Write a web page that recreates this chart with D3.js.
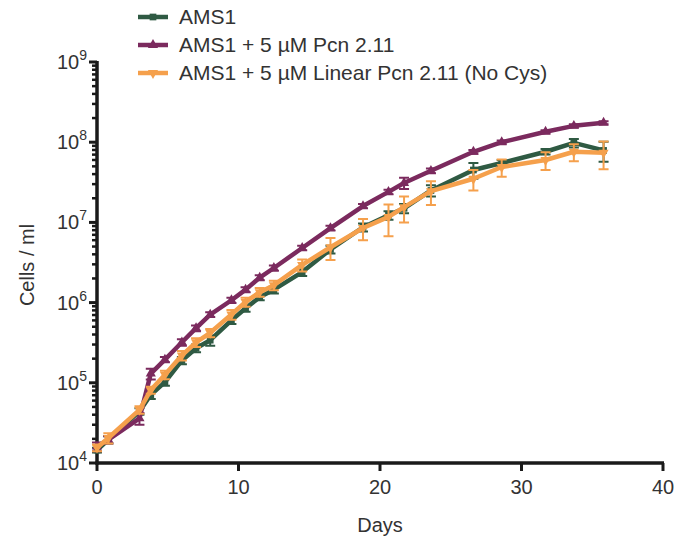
<!DOCTYPE html>
<html>
<head>
<meta charset="utf-8">
<script src="https://cdn.jsdelivr.net/npm/d3@7"></script>
<style>
  body { margin: 0; background: #fff; }
  text { font-family: "Liberation Sans", Arial, sans-serif; fill: #333; }
</style>
</head>
<body>
<div id="chart"></div>
<script>
// growth curves
var days = [0, 0.8, 3, 3.8, 4.8, 6, 7, 8, 9.5, 10.5, 11.5, 12.5, 14.5, 16.5, 18.8, 20.6, 21.7, 23.6, 26.6, 28.6, 31.7, 33.7, 35.8]

var ams1 = [1.45e4, 1.95e4, 4.4e4, 7.1e4, 1.02e5, 1.9e5, 2.7e5, 3.4e5, 6.0e5, 8.5e5, 1.17e6, 1.45e6, 2.4e6, 4.6e6, 8.7e6, 1.23e7, 1.5e7, 2.5e7, 4.5e7, 5.5e7, 7.6e7, 9.8e7, 7.9e7]
var ams1Sd = [1e3, 2e3, 4e3, 8e3, 1e4, 2e4, 3e4, 5e4, 6e4, 8e4, 1e5, 1.5e5, 2.5e5, 5e5, 1e6, 1.5e6, 2e6, 4e6, 1e7, 5e6, 6e6, 1.2e7, 2.2e7]

var pcn = [1.6e4, 1.95e4, 3.6e4, 1.3e5, 1.95e5, 3.2e5, 4.8e5, 7.1e5, 1.07e6, 1.45e6, 2.05e6, 2.7e6, 4.8e6, 8.5e6, 1.6e7, 2.4e7, 3.1e7, 4.4e7, 7.6e7, 1.0e8, 1.35e8, 1.6e8, 1.75e8]
var pcnSd = [2e3, 2e3, 6e3, 2e4, 1.5e4, 3e4, 4e4, 5e4, 8e4, 1e5, 1.5e5, 2e5, 3e5, 6e5, 1e6, 1.5e6, 5e6, 3e6, 4e6, 5e6, 6e6, 8e6, 8e6]

var linPcn = [1.55e4, 2.05e4, 4.6e4, 8.1e4, 1.26e5, 2.2e5, 3.2e5, 4.2e5, 7.1e5, 1.02e6, 1.35e6, 1.65e6, 2.95e6, 4.9e6, 8.5e6, 1.17e7, 1.55e7, 2.45e7, 3.5e7, 4.9e7, 6.0e7, 7.6e7, 7.4e7]
var linPcnSd = [1.5e3, 3e3, 5e3, 8e3, 1.5e4, 3e4, 4e4, 5e4, 1e5, 1.3e5, 1.7e5, 2.2e5, 5e5, 1.5e6, 2.5e6, 5e6, 5.5e6, 8e6, 1e7, 1.2e7, 1.5e7, 1.8e7, 2.8e7]

var seriesNames = ['AMS1', 'AMS1 + 5 \u00B5M Pcn 2.11', 'AMS1 + 5 \u00B5M Linear Pcn 2.11 (No Cys)']
var xTicks = [0, 10, 20, 30, 40]
var yTicks = [4, 5, 6, 7, 8, 9]

var series = [
    {name: seriesNames[0], vals: ams1, sd: ams1Sd, color: '#2f5a43', sym: d3.symbolSquare, size: 45, rot: 0},
    {name: seriesNames[1], vals: pcn, sd: pcnSd, color: '#7b2a5e', sym: d3.symbolTriangle, size: 45, rot: 0},
    {name: seriesNames[2], vals: linPcn, sd: linPcnSd, color: '#f5a04c', sym: d3.symbolTriangle, size: 45, rot: 180}
]

var width = 681, height = 540

const svg = d3.select('#chart')
    .append('svg')
    .attr('width', width)
    .attr('height', height)

var xScale = d3.scaleLinear()
    .domain([0, 40])
    .range([97, 663])

var yScale = d3.scaleLog()
    .domain([1e4, 1e9])
    .range([463, 62])

// y axis: line, major + minor ticks
var yAxis = svg.append('g')
yAxis.append('line')
    .attr('x1', xScale(0)).attr('x2', xScale(0))
    .attr('y1', yScale(1e4) + 1.5).attr('y2', yScale(1e9) - 1)
    .attr('stroke', '#1a1a1a').attr('stroke-width', 3.5)

var minor = []
yTicks.slice(0, -1).forEach(e => {
    for (var m = 2; m < 10; m++) minor.push(m * Math.pow(10, e))
})
yAxis.selectAll('.minor')
    .data(minor)
    .enter().append('line')
    .attr('x1', xScale(0) - 5).attr('x2', xScale(0))
    .attr('y1', d => yScale(d)).attr('y2', d => yScale(d))
    .attr('stroke', '#1a1a1a').attr('stroke-width', 2.5)

yAxis.selectAll('.major')
    .data(yTicks)
    .enter().append('line')
    .attr('x1', xScale(0) - 8).attr('x2', xScale(0))
    .attr('y1', d => yScale(Math.pow(10, d))).attr('y2', d => yScale(Math.pow(10, d)))
    .attr('stroke', '#1a1a1a').attr('stroke-width', 3)

var yLabels = yAxis.selectAll('.ylab')
    .data(yTicks)
    .enter().append('text')
    .attr('x', xScale(0) - 10)
    .attr('y', d => yScale(Math.pow(10, d)) + 7)
    .attr('text-anchor', 'end')
    .style('font-size', '20px')
yLabels.append('tspan').text('10')
yLabels.append('tspan').attr('dy', -9).style('font-size', '14px').text(d => d)

// x axis
var xAxis = svg.append('g')
xAxis.append('line')
    .attr('x1', xScale(0) - 1.5).attr('x2', xScale(40) + 1)
    .attr('y1', yScale(1e4)).attr('y2', yScale(1e4))
    .attr('stroke', '#1a1a1a').attr('stroke-width', 3.5)
xAxis.selectAll('.xt')
    .data(xTicks)
    .enter().append('line')
    .attr('x1', d => xScale(d)).attr('x2', d => xScale(d))
    .attr('y1', yScale(1e4)).attr('y2', yScale(1e4) + 8)
    .attr('stroke', '#1a1a1a').attr('stroke-width', 3)
xAxis.selectAll('.xl')
    .data(xTicks)
    .enter().append('text')
    .attr('x', d => xScale(d))
    .attr('y', yScale(1e4) + 31)
    .attr('text-anchor', 'middle')
    .style('font-size', '20px')
    .text(d => d)

svg.append('text')
    .attr('x', 380).attr('y', 532)
    .attr('text-anchor', 'middle')
    .style('font-size', '20px')
    .text('Days')

svg.append('text')
    .attr('transform', 'translate(34,265) rotate(-90)')
    .attr('text-anchor', 'middle')
    .style('font-size', '20px')
    .text('Cells / ml')

// data
var lineGenerator = d3.line()
    .x(d => xScale(d.x))
    .y(d => yScale(d.y))

series.forEach(s => {
    var pts = days.map((d, i) => ({x: d, y: s.vals[i], sd: s.sd[i]}))
    var g = svg.append('g')

    g.selectAll('.err')
        .data(pts)
        .enter().append('path')
        .attr('d', d => {
            var x = xScale(d.x), y0 = yScale(d.y - d.sd), y1 = yScale(d.y + d.sd)
            return 'M' + x + ',' + y0 + 'V' + y1 +
                'M' + (x - 5) + ',' + y0 + 'H' + (x + 5) +
                'M' + (x - 5) + ',' + y1 + 'H' + (x + 5)
        })
        .attr('fill', 'none')
        .attr('stroke', s.color)
        .attr('stroke-width', 2)

    g.append('path')
        .attr('d', lineGenerator(pts))
        .attr('fill', 'none')
        .attr('stroke', s.color)
        .attr('stroke-width', 4.5)
        .attr('stroke-linejoin', 'round')

    g.selectAll('.pt')
        .data(pts)
        .enter().append('path')
        .attr('d', d3.symbol().type(s.sym).size(s.size))
        .attr('transform', d => 'translate(' + xScale(d.x) + ',' + yScale(d.y) + ') rotate(' + s.rot + ')')
        .attr('fill', s.color)
})

// legend
var legend = svg.append('g')
series.forEach((s, i) => {
    var y = 17 + i * 28
    legend.append('line')
        .attr('x1', 138).attr('x2', 168)
        .attr('y1', y).attr('y2', y)
        .attr('stroke', s.color).attr('stroke-width', 4.5)
    legend.append('path')
        .attr('d', d3.symbol().type(s.sym).size(s.size))
        .attr('transform', 'translate(153,' + y + ') rotate(' + s.rot + ')')
        .attr('fill', s.color)
    legend.append('text')
        .attr('x', 179).attr('y', y + 7)
        .style('font-size', '21px')
        .text(s.name)
})
</script>
</body>
</html>
